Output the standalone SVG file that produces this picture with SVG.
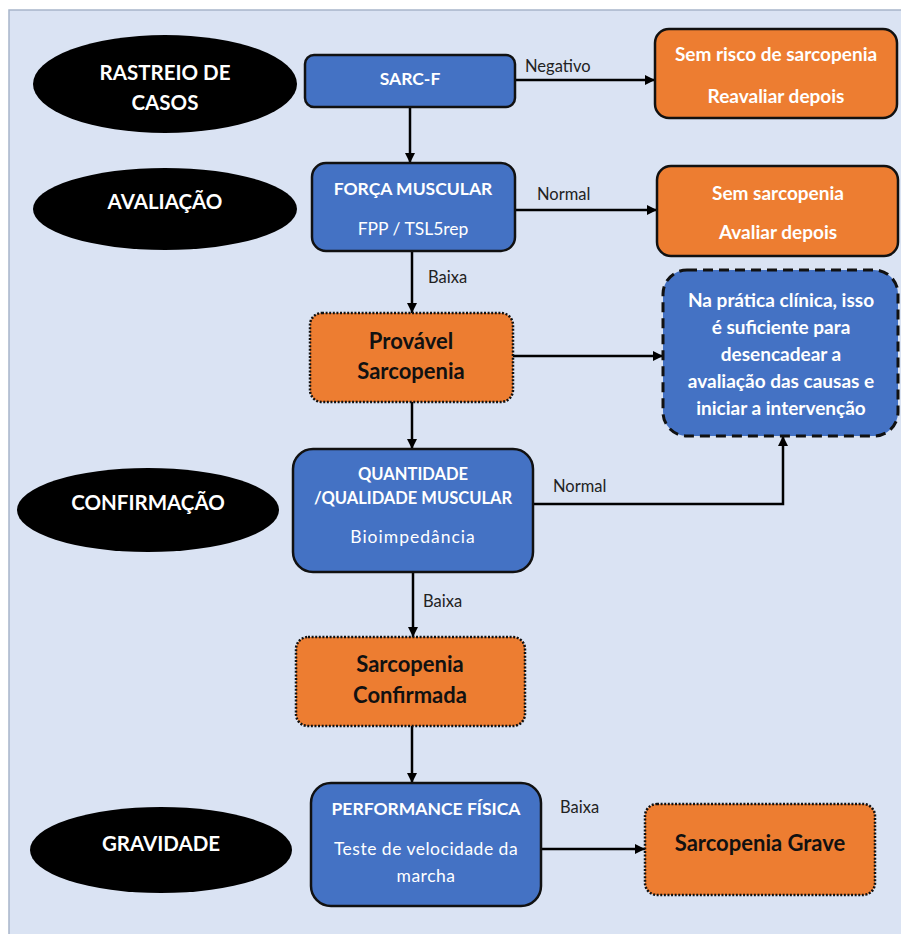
<svg xmlns="http://www.w3.org/2000/svg" width="901" height="934" viewBox="0 0 901 934">
<defs>
<marker id="ah" viewBox="0 0 10 10" refX="10" refY="5" markerWidth="4" markerHeight="4" orient="auto" markerUnits="strokeWidth">
<path d="M0,0 L10,5 L0,10 z" fill="#000"/>
</marker>
<style>
.ell{fill:#000}
.et{font-family:Lato,"Liberation Sans",sans-serif;font-weight:bold;font-size:20.5px;fill:#fff;text-anchor:middle}
.blue{fill:#4472c4;stroke:#111;stroke-width:2.5}
.orange{fill:#ed7d31;stroke:#111;stroke-width:2.5}
.dot{fill:#ed7d31;stroke:#111;stroke-width:2.5;stroke-dasharray:2 1.6}
.dash{fill:#4472c4;stroke:#111;stroke-width:3;stroke-dasharray:10 6}
.wb{font-family:Lato,"Liberation Sans",sans-serif;font-weight:bold;font-size:17.5px;fill:#fff;text-anchor:middle}
.wo{font-family:Lato,"Liberation Sans",sans-serif;font-weight:bold;font-size:19px;fill:#fff;text-anchor:middle}
.wr{font-family:Lato,"Liberation Sans",sans-serif;font-size:17.5px;fill:#fff;text-anchor:middle}
.bb{font-family:Lato,"Liberation Sans",sans-serif;font-weight:bold;font-size:22px;fill:#111;text-anchor:middle}
.lbl{font-family:Lato,"Liberation Sans",sans-serif;font-size:16.5px;fill:#222}
.con{fill:none;stroke:#000;stroke-width:2.5;marker-end:url(#ah)}
</style>
</defs>
<rect x="0" y="0" width="901" height="934" fill="#fff"/>
<rect x="9" y="10" width="900" height="930" fill="#dae3f3" stroke="#a8b5ca" stroke-width="1.5"/>

<g id="ell-rastreio"><ellipse class="ell" cx="165" cy="84" rx="132" ry="49"/>
<text class="et" x="165" y="80">RASTREIO DE</text><text class="et" x="165" y="110">CASOS</text></g>
<g id="ell-avaliacao"><ellipse class="ell" cx="165" cy="209" rx="132" ry="41"/>
<text class="et" x="165" y="209">AVALIAÇÃO</text></g>
<g id="ell-confirmacao"><ellipse class="ell" cx="148" cy="510" rx="131" ry="42"/>
<text class="et" x="148" y="510">CONFIRMAÇÃO</text></g>
<g id="ell-gravidade"><ellipse class="ell" cx="161" cy="850" rx="131" ry="43"/>
<text class="et" x="161" y="851">GRAVIDADE</text></g>

<g id="connectors">
<line class="con" x1="410" y1="107" x2="410" y2="163"/>
<line class="con" x1="515" y1="80" x2="655" y2="80"/>
<line class="con" x1="515" y1="210" x2="657" y2="210"/>
<line class="con" x1="412" y1="251" x2="412" y2="313"/>
<line class="con" x1="513" y1="356" x2="663" y2="356"/>
<line class="con" x1="412" y1="402" x2="412" y2="449"/>
<path class="con" d="M533,504 H783 V436"/>
<line class="con" x1="413" y1="572" x2="413" y2="637"/>
<line class="con" x1="412" y1="726" x2="412" y2="783"/>
<line class="con" x1="541" y1="849" x2="645" y2="849"/>
<text class="lbl" x="525" y="72">Negativo</text>
<text class="lbl" x="537" y="200">Normal</text>
<text class="lbl" x="428" y="283">Baixa</text>
<text class="lbl" x="553" y="492">Normal</text>
<text class="lbl" x="423" y="607">Baixa</text>
<text class="lbl" x="560" y="813">Baixa</text>
</g>

<g id="sarcf"><rect class="blue" x="305" y="55" width="210" height="52" rx="9"/>
<text class="wb" x="410" y="85">SARC-F</text></g>
<g id="forca"><rect class="blue" x="312" y="163" width="203" height="88" rx="14"/>
<text class="wb" x="413" y="195">FORÇA MUSCULAR</text>
<text class="wr" x="413" y="235">FPP / TSL5rep</text></g>
<g id="semrisco"><rect class="orange" x="655" y="29" width="242" height="89" rx="14"/>
<text class="wo" x="776" y="61">Sem risco de sarcopenia</text>
<text class="wo" x="776" y="103">Reavaliar depois</text></g>
<g id="semsarc"><rect class="orange" x="657" y="166" width="241" height="90" rx="14"/>
<text class="wo" x="778" y="200">Sem sarcopenia</text>
<text class="wo" x="778" y="239">Avaliar depois</text></g>
<g id="provavel"><rect class="dot" x="310" y="313" width="203" height="89" rx="12"/>
<text class="bb" x="411" y="349">Provável</text>
<text class="bb" x="411" y="379">Sarcopenia</text></g>
<g id="pratica"><rect class="dash" x="663" y="270" width="235" height="166" rx="24"/>
<text class="wo" x="781" y="307">Na prática clínica, isso</text>
<text class="wo" x="781" y="334">é suficiente para</text>
<text class="wo" x="781" y="361">desencadear a</text>
<text class="wo" x="781" y="388">avaliação das causas e</text>
<text class="wo" x="781" y="415">iniciar a intervenção</text></g>
<g id="quantidade"><rect class="blue" x="293" y="449" width="240" height="123" rx="20"/>
<text class="wb" x="413" y="480" style="font-size:16.5px">QUANTIDADE</text>
<text class="wb" x="413" y="504" style="font-size:16.5px">/QUALIDADE MUSCULAR</text>
<text class="wr" x="413" y="543" style="letter-spacing:1px">Bioimpedância</text></g>
<g id="confirmada"><rect class="dot" x="296" y="637" width="229" height="89" rx="12"/>
<text class="bb" x="410" y="672">Sarcopenia</text>
<text class="bb" x="410" y="703">Confirmada</text></g>
<g id="performance"><rect class="blue" x="311" y="783" width="230" height="123" rx="20"/>
<text class="wb" x="426" y="815">PERFORMANCE FÍSICA</text>
<text class="wr" x="426" y="855" style="letter-spacing:0.5px">Teste de velocidade da</text>
<text class="wr" x="426" y="882" style="letter-spacing:0.5px">marcha</text></g>
<g id="grave"><rect class="dot" x="645" y="804" width="230" height="91" rx="12"/>
<text class="bb" x="760" y="851">Sarcopenia Grave</text></g>
</svg>
